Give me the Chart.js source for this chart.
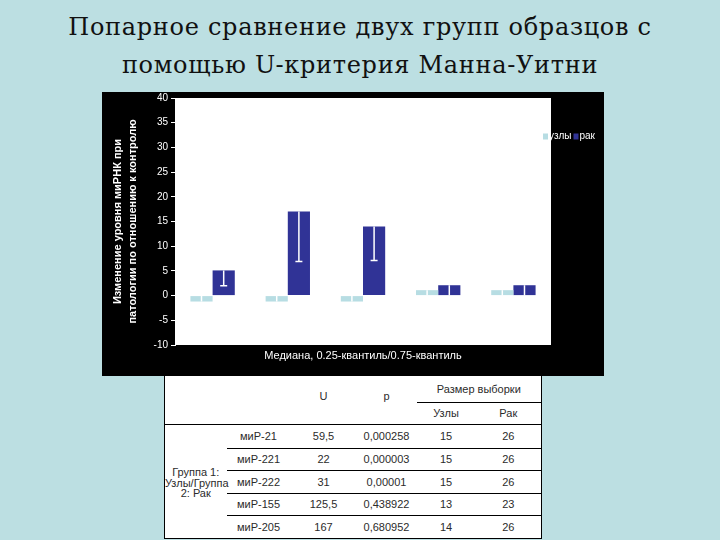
<!DOCTYPE html>
<html lang="ru">
<head>
<meta charset="utf-8">
<title>Попарное сравнение двух групп образцов</title>
<script src="https://cdn.jsdelivr.net/npm/chart.js@4"></script>
<style>
  html, body { margin: 0; padding: 0; }
  body {
    width: 720px; height: 540px; position: relative; overflow: hidden;
    background: #bcdfe2;
    font-family: "Liberation Sans", Arial, sans-serif;
  }
  #title {
    position: absolute; left: 0; top: 8px; width: 720px;
    text-align: center; color: #111;
    font-family: "DejaVu Serif", serif; font-size: 24px; line-height: 38px;
    letter-spacing: 0.7px;
  }
  #chart-box {
    position: absolute; left: 102px; top: 92px; width: 502px; height: 284px;
    background: #000;
  }
  #grafik { display: block; margin-top: -3px; }
  #stats {
    position: absolute; left: 164px; top: 376px; width: 377px;
    border-collapse: collapse; table-layout: fixed; background: #fff;
    border-left: 1px solid #000; border-right: 1px solid #000; border-bottom: 1px solid #000;
    font-size: 11px; color: #2b2b2b;
  }
  #stats th, #stats td { padding: 0; text-align: center; font-weight: normal; white-space: nowrap; }
  #stats .hd { vertical-align: middle; padding-bottom: 8px; }
  #stats .sub { border-bottom: 1px solid #000; }
  #stats .line { border-bottom: 1px solid #000; }
  #stats .grp { line-height: 10.5px; padding-top: 4px; }
</style>
</head>
<body>
<div id="title">Попарное сравнение двух групп образцов с<br>помощью U-критерия Манна-Уитни</div>
<div id="chart-box"><canvas id="grafik" width="502" height="287"></canvas></div>
<table id="stats">
  <colgroup>
    <col style="width:62px"><col style="width:64px"><col style="width:66px">
    <col style="width:60px"><col style="width:59px"><col style="width:66px">
  </colgroup>
  <thead>
    <tr style="height:26px">
      <th rowspan="2" class="line"></th><th rowspan="2" class="line"></th>
      <th rowspan="2" class="hd line">U</th><th rowspan="2" class="hd line">p</th>
      <th colspan="2" class="sub">Размер выборки</th>
    </tr>
    <tr style="height:22px"><th class="line">Узлы</th><th class="line">Рак</th></tr>
  </thead>
  <tbody id="rows"></tbody>
</table>
<script>
// chart data
const categories = ["миР-21", "миР-221", "миР-222", "миР-155", "миР-205"];
const uzlyMedian = [-1.2, -1.2, -1.2, 1.1, 1.1];
const rakMedian = [5.1, 17.0, 14.0, 2.1, 2.1];
// lower whisker ends (0.25-quantile), only the part inside the white area is visible
const uzlyWhisker = [0, 0, 0, 0, 0];
const rakWhisker = [2.0, 6.9, 7.1, 0, 0];
const yTicks = { min: -10, max: 40, step: 5 };

// table data
const uValues = ["59,5", "22", "31", "125,5", "167"];
const pValues = ["0,000258", "0,000003", "0,00001", "0,438922", "0,680952"];
const nUzly = [15, 15, 15, 13, 14];
const nRak = [26, 26, 26, 23, 26];

const plotBg = {
  id: "plotBg",
  beforeDraw(chart) {
    const a = chart.chartArea;
    chart.ctx.save();
    chart.ctx.fillStyle = "#fff";
    chart.ctx.fillRect(a.left, a.top, a.right - a.left, a.bottom - a.top);
    chart.ctx.restore();
  },
};

const whiskers = {
  id: "whiskers",
  afterDatasetsDraw(chart) {
    const ctx = chart.ctx;
    const y = chart.scales.y;
    ctx.save();
    ctx.strokeStyle = "#fff";
    ctx.lineWidth = 1.5;
    chart.data.datasets.forEach((ds, i) => {
      chart.getDatasetMeta(i).data.forEach((bar, j) => {
        const end = y.getPixelForValue(ds.whisker[j]);
        ctx.beginPath();
        ctx.moveTo(bar.x, bar.y);
        ctx.lineTo(bar.x, end);
        if (ds.whisker[j] !== 0) {
          ctx.moveTo(bar.x - 3.5, end);
          ctx.lineTo(bar.x + 3.5, end);
        }
        ctx.stroke();
      });
    });
    ctx.restore();
  },
};

const smallLegend = {
  id: "smallLegend",
  afterDraw(chart) {
    const ctx = chart.ctx;
    let x = chart.chartArea.right - 8;
    const y = chart.chartArea.top + 38.5;
    ctx.save();
    ctx.font = "10px 'Liberation Sans', Arial, sans-serif";
    ctx.textBaseline = "middle";
    chart.data.datasets.forEach((ds) => {
      ctx.fillStyle = ds.backgroundColor;
      ctx.fillRect(x, y - 3, 5, 6);
      x += 6;
      ctx.fillStyle = "#fff";
      ctx.fillText(ds.label, x, y);
      x += ctx.measureText(ds.label).width + 2;
    });
    ctx.restore();
  },
};

Chart.defaults.font.family = "'Liberation Sans', Arial, sans-serif";

const grafik = new Chart(document.getElementById("grafik"), {
  type: "bar",
  data: {
    labels: categories,
    datasets: [
      { label: "узлы", data: uzlyMedian, whisker: uzlyWhisker, backgroundColor: "#b7dde3" },
      { label: "рак", data: rakMedian, whisker: rakWhisker, backgroundColor: "#303396" },
    ],
  },
  options: {
    responsive: false,
    animation: false,
    devicePixelRatio: 1,
    layout: { padding: { top: 5, right: 53, bottom: 0, left: 0 } },
    datasets: { bar: { categoryPercentage: 0.59, barPercentage: 1.0, borderWidth: 0 } },
    plugins: { legend: { display: false }, tooltip: { enabled: false } },
    scales: {
      x: {
        grid: { display: false, drawTicks: false },
        border: { display: false },
        ticks: { display: false },
        title: {
          display: true,
          text: "Медиана, 0.25-квантиль/0.75-квантиль",
          color: "#fff",
          font: { size: 11 },
          padding: { top: 4.4, bottom: 13.4 },
        },
      },
      y: {
        min: yTicks.min,
        max: yTicks.max,
        ticks: { stepSize: yTicks.step, color: "#fff", font: { size: 10 }, padding: 3 },
        grid: { drawOnChartArea: false, color: "#fff", tickLength: 4 },
        border: { color: "#fff" },
        title: {
          display: true,
          text: ["Изменение уровня миРНК при", "патологии по отношению к контролю"],
          color: "#fff",
          font: { size: 11, weight: "bold", lineHeight: 1.35 },
          padding: { top: 8.6, bottom: 0 },
        },
        afterFit(scale) {
          scale.width = 73;
        },
      },
    },
  },
  plugins: [plotBg, whiskers, smallLegend],
});

// table body
const rows = document.getElementById("rows");
categories.forEach((name, i) => {
  const tr = document.createElement("tr");
  tr.style.height = [24, 22, 23, 22, 23][i] + "px";
  let html = "";
  if (i === 0) {
    html += '<td rowspan="5" class="grp">Группа 1:<br>Узлы/Группа<br>2: Рак</td>';
  }
  const cls = i < categories.length - 1 ? ' class="line"' : "";
  [name, uValues[i], pValues[i], nUzly[i], nRak[i]].forEach((v) => {
    html += "<td" + cls + ">" + v + "</td>";
  });
  tr.innerHTML = html;
  rows.appendChild(tr);
});
</script>
</body>
</html>
